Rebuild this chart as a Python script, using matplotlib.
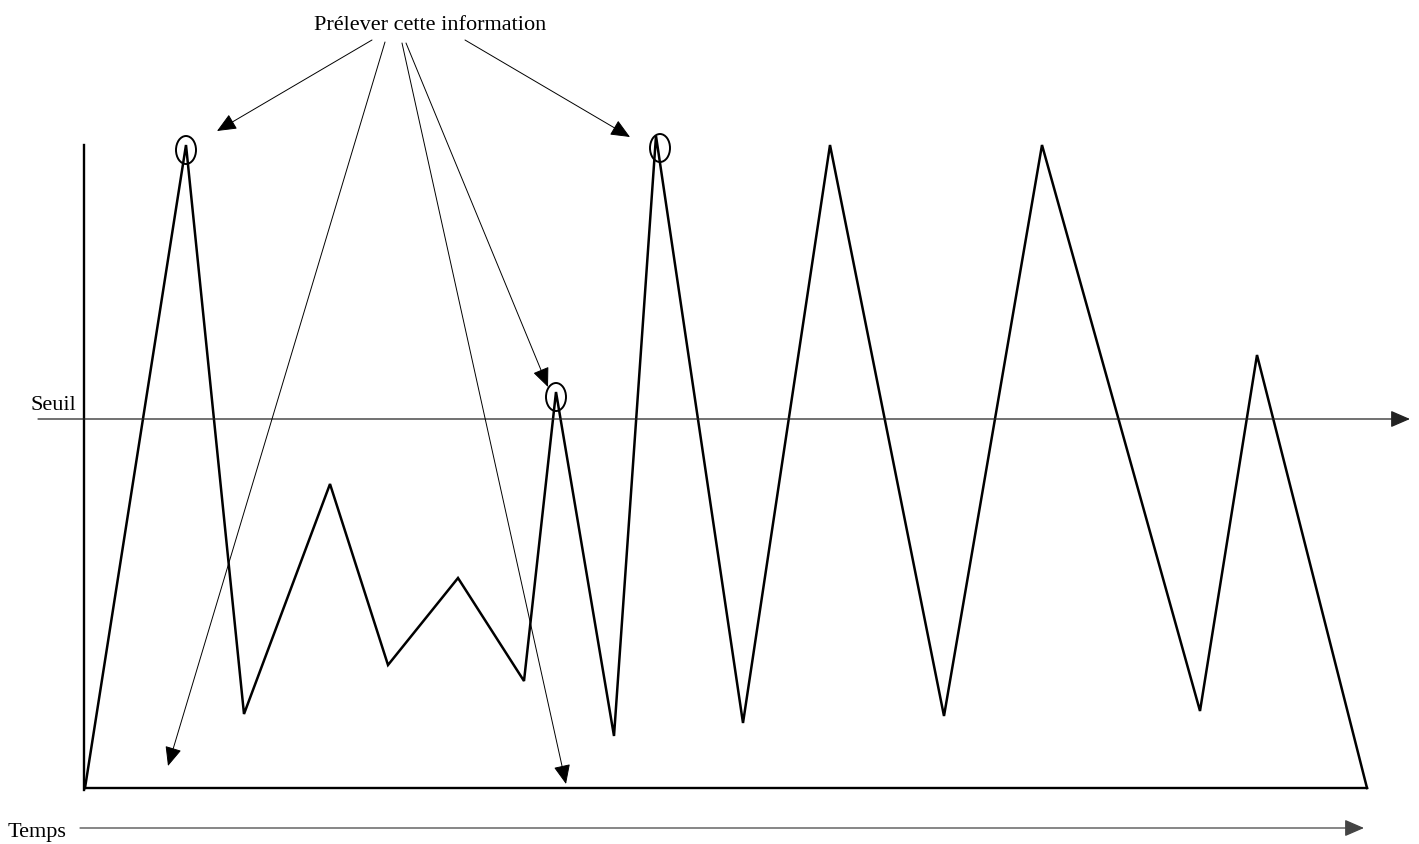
import matplotlib.pyplot as plt
from matplotlib.patches import Ellipse

# signal vertices (pixel coordinates)
sig_x = [85, 186, 244, 330, 388, 458, 524, 556, 614, 656, 743, 830, 944, 1042, 1200, 1257, 1367]
sig_y = [788, 145, 714, 484, 665, 578, 681, 392, 736, 136, 723, 145, 716, 145, 711, 355, 788]

# circled peaks
circ_x = [186, 556, 660]
circ_y = [150, 397, 148]

# annotation arrows: start (near text) and end points
arr_start = [(372, 40), (385, 42), (402, 43), (406, 43), (465, 40)]
arr_end = [(217, 131), (168, 766), (566, 784), (548, 387), (630, 137)]

seuil_y = 419
temps_y = 828

plt.rcParams['font.family'] = ['Liberation Serif', 'DejaVu Serif']

fig = plt.figure(figsize=(14.19, 8.44), dpi=100)
ax = fig.add_axes([0, 0, 1, 1])
ax.set_xlim(0, 1419)
ax.set_ylim(844, 0)
ax.axis('off')

# axes of the sketch
ax.plot([84, 84], [145, 790], color='black', lw=1.7)
ax.plot([85, 1367], [788, 788], color='black', lw=1.7)

head = dict(arrowstyle='-|>,head_length=0.6,head_width=0.26', mutation_scale=20,
            shrinkA=0, shrinkB=0, color='black')

ax.annotate('', xy=(1410, seuil_y), xytext=(38, seuil_y),
            arrowprops=dict(head, lw=0.9, color='#222222'))
ax.annotate('', xy=(1364, temps_y), xytext=(80, temps_y),
            arrowprops=dict(head, lw=0.9, color='#444444'))

# signal
ax.plot(sig_x, sig_y, color='black', lw=1.8, solid_joinstyle='miter')

for cx, cy in zip(circ_x, circ_y):
    ax.add_patch(Ellipse((cx, cy), 20, 28, fill=False, ec='black', lw=1.4))

for s, e in zip(arr_start, arr_end):
    ax.annotate('', xy=e, xytext=s, arrowprops=dict(head, lw=0.7))

ax.text(430, 26, 'Prélever cette information', ha='center', va='center', fontsize=16)
ax.text(30, 406, 'Seuil', ha='left', va='center', fontsize=16)
ax.text(8, 833, 'Temps', ha='left', va='center', fontsize=16)

fig.savefig('out.png', dpi=100)
